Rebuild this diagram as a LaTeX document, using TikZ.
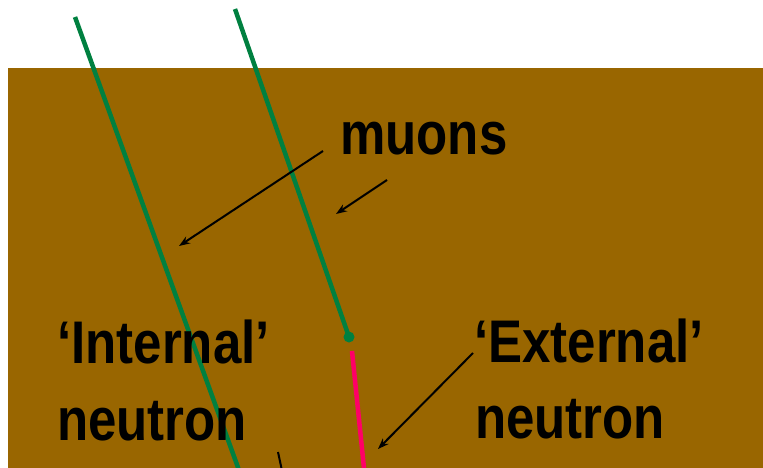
\documentclass[tikz,border=0pt]{standalone}
\usepackage{fontspec}
\setmainfont{Liberation Sans}
\usetikzlibrary{arrows.meta}
\definecolor{rock}{RGB}{153,102,0}
\definecolor{muongreen}{RGB}{0,128,64}
\definecolor{neutronpink}{RGB}{255,0,102}
\newcommand\tallword[1]{\scalebox{1}[1.18]{#1}}
\tikzset{
    label text/.style={anchor=base west, inner sep=0pt, font=\fontsize{51}{60}\selectfont\bfseries},
    pointer/.style={-{Stealth[length=11pt, width=8pt]}, line width=2pt},
}
\begin{document}
\begin{tikzpicture}[x=1pt, y=-1pt]
    \useasboundingbox (0,0) rectangle (763,468);
    \clip (0,0) rectangle (763,468);
    \fill[rock] (8,68) rectangle (763,468);
    % muon tracks
    \coordinate (muA top) at (75,17);
    \coordinate (muA bot) at (240,473);
    \coordinate (muB top) at (235,9);
    \coordinate (muB end) at (349,337);
    \draw[muongreen, line width=4.5pt] (muA top) -- (muA bot);
    \draw[muongreen, line width=4.5pt] (muB top) -- (muB end);
    \fill[muongreen] (muB end) circle (5.5pt);
    % neutron track
    \coordinate (n start) at (352,351);
    \coordinate (n end) at (364.5,473);
    \draw[neutronpink, line width=4.5pt] (n start) -- (n end);
    \coordinate (stub top) at (278,452);
    \coordinate (stub bot) at (282.5,473);
    \draw[line width=2pt] (stub top) -- (stub bot);
    % labels
    \node[label text] (muons) at (340,155) {\tallword{muons}};
    \node[label text] (intlabel) at (57,363) {\tallword{‘Internal’}};
    \node[label text] (intneutron) at (57,440) {\tallword{neutron}};
    \node[label text] (extlabel) at (474,362) {\tallword{‘External’}};
    \node[label text] (extneutron) at (475,438) {\tallword{neutron}};
    % pointers
    \coordinate (pA from) at (323,151);
    \coordinate (pA to) at (179,246);
    \coordinate (pB from) at (387,180);
    \coordinate (pB to) at (336,214);
    \coordinate (pC from) at (473,353);
    \coordinate (pC to) at (378,449);
    \draw[pointer] (pA from) -- (pA to);
    \draw[pointer] (pB from) -- (pB to);
    \draw[pointer] (pC from) -- (pC to);
\end{tikzpicture}
\end{document}
